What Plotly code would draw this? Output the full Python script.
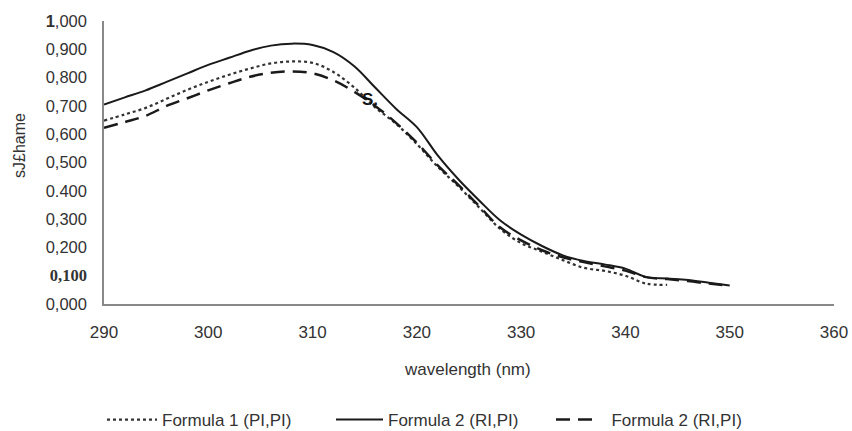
import plotly.graph_objects as go

wavelength_f1 = [290, 292, 294, 296, 298, 300, 302, 304, 306, 308, 310, 312, 314, 316, 318, 320,
                 322, 324, 326, 328, 330, 332, 334, 336, 338, 340, 342, 344]
formula1_pipi = [0.648, 0.670, 0.693, 0.725, 0.757, 0.785, 0.810, 0.832, 0.850, 0.857, 0.852, 0.820,
                 0.765, 0.695, 0.637, 0.565, 0.485, 0.415, 0.340, 0.265, 0.215, 0.185, 0.155, 0.128,
                 0.117, 0.100, 0.072, 0.068]

wavelength_f2 = [290, 292, 294, 296, 298, 300, 302, 304, 306, 308, 310, 312, 314, 316, 318, 320,
                 322, 324, 326, 328, 330, 332, 334, 336, 338, 340, 342, 344, 346, 348, 350]
formula2_ripi_solid = [0.705, 0.730, 0.755, 0.785, 0.815, 0.845, 0.870, 0.895, 0.913, 0.920, 0.915,
                       0.890, 0.840, 0.765, 0.690, 0.625, 0.525, 0.440, 0.365, 0.295, 0.245, 0.205,
                       0.172, 0.152, 0.140, 0.125, 0.095, 0.090, 0.085, 0.075, 0.065]
formula2_ripi_dash = [0.623, 0.643, 0.665, 0.700, 0.727, 0.755, 0.780, 0.803, 0.817, 0.822, 0.815,
                      0.790, 0.750, 0.700, 0.640, 0.570, 0.490, 0.420, 0.345, 0.270, 0.225, 0.190,
                      0.165, 0.148, 0.133, 0.118, 0.095, 0.088, 0.081, 0.072, 0.064]

y_tickvals = [0, 0.1, 0.2, 0.3, 0.4, 0.5, 0.6, 0.7, 0.8, 0.9, 1.0]
y_ticktext = ["0,000", "<span style='font-family:Liberation Serif'><b>0,100</b></span>", "0,200",
              "0,300", "0.400", "0,500", "0,600", "0,700", "0,800", "0,900", "<b>1</b>,000"]
x_tickvals = [290, 300, 310, 320, 330, 340, 350, 360]

TXT = "#333333"
W, H = 852, 431

fig = go.Figure()
fig.add_trace(go.Scatter(x=wavelength_f1, y=formula1_pipi, mode="lines", name="Formula 1 (PI,PI)",
                         legend="legend",
                         line=dict(color="#333333", width=2.2, dash="dot", shape="spline")))
fig.add_trace(go.Scatter(x=wavelength_f2, y=formula2_ripi_solid, mode="lines", name="Formula 2 (RI,PI)",
                         legend="legend2",
                         line=dict(color="#1a1a1a", width=2, shape="spline")))
fig.add_trace(go.Scatter(x=wavelength_f2, y=formula2_ripi_dash, mode="lines",
                         name="\u00a0\u00a0Formula 2 (RI,PI)",
                         legend="legend3",
                         line=dict(color="#1a1a1a", width=2.5, dash="14px,8px", shape="spline")))

def leg(left_px, itemwidth):
    return dict(orientation="h", x=left_px / W, xref="container", xanchor="left",
                y=1 - 420 / H, yref="container", yanchor="middle",
                font=dict(size=17, color=TXT), itemwidth=itemwidth,
                bgcolor="rgba(0,0,0,0)", borderwidth=0)

fig.update_layout(
    width=W, height=H,
    margin=dict(l=104, r=18, t=21, b=127, autoexpand=False),
    paper_bgcolor="white", plot_bgcolor="white",
    font=dict(family="Liberation Sans, Arial, sans-serif", size=17, color=TXT),
    showlegend=True,
    legend=leg(102, 50),
    legend2=leg(331, 47),
    legend3=leg(551, 41),
    xaxis=dict(range=[290, 360], tickvals=x_tickvals, showgrid=False, zeroline=False,
               showline=True, linecolor="#888888", linewidth=1.5, ticks="",
               ticklabelstandoff=12, automargin=False, tickfont=dict(size=17, color=TXT)),
    yaxis=dict(range=[0, 1.0], tickvals=y_tickvals, ticktext=y_ticktext, showgrid=False,
               zeroline=False, showline=True, linecolor="#888888", linewidth=1.5, ticks="",
               ticklabelstandoff=12, automargin=False, tickfont=dict(size=16.5, color=TXT)),
)
fig.add_annotation(text="wavelength (nm)", xref="paper", yref="paper",
                   x=(467 - 104) / 730, y=-(370 - 304) / 283, xanchor="center", yanchor="middle",
                   showarrow=False, font=dict(size=17, color=TXT))
fig.add_annotation(text="sJ£hame", xref="paper", yref="paper",
                   x=(19 - 104) / 730, y=(304 - 146) / 283, xanchor="center", yanchor="middle",
                   textangle=-90, showarrow=False, font=dict(size=16, color=TXT))
fig.add_annotation(text="<b>S.</b>", xref="x", yref="y", x=315.5, y=0.722,
                   showarrow=False, font=dict(size=17, color="#111111"))

fig.write_html("out.html",
               config={"displayModeBar": False},
               post_script="document.body.style.margin='0';document.body.style.padding='0';"
                           "document.body.style.overflow='hidden';")
